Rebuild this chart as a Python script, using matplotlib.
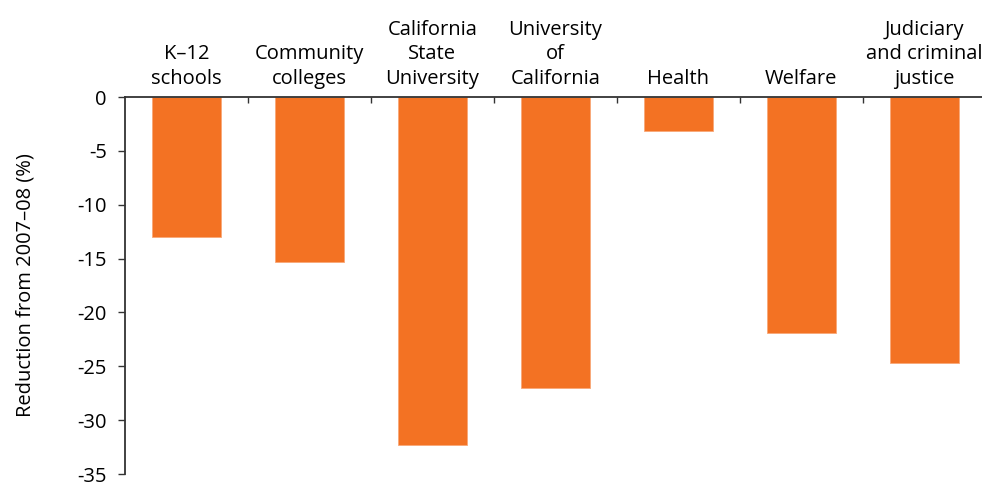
import matplotlib
matplotlib.use('Agg')
import matplotlib.pyplot as plt
import numpy as np

plt.rcParams['font.family'] = ['Open Sans', 'DejaVu Sans']

categories = ['K\u201312\nschools', 'Community\ncolleges', 'California\nState\nUniversity',
              'University\nof\nCalifornia', 'Health', 'Welfare',
              'Judiciary\nand criminal\njustice']
reduction = [-13.0, -15.3, -32.3, -27.0, -3.2, -21.9, -24.7]
y_ticks = [0, -5, -10, -15, -20, -25, -30, -35]

BAR_COLOR = '#F37223'
SPINE_COLOR = '#333333'
FS = 14.5


def main():
    fig = plt.figure(figsize=(9.82, 4.86), dpi=100)
    ax = fig.add_axes([125 / 982, 12 / 486, 857 / 982, 377 / 486])

    x = np.arange(len(categories))
    ax.bar(x, reduction, width=0.56, color=BAR_COLOR, edgecolor='#F8A878', linewidth=0.6)

    ax.set_xlim(-0.5, 6.47)
    ax.set_ylim(-35, 0)

    # category labels above the zero line
    ax.xaxis.tick_top()
    ax.set_xticks(x)
    ax.set_xticklabels(categories, fontsize=FS, linespacing=1.3)
    ax.tick_params(axis='x', which='major', length=0, pad=6)
    ax.set_xticks(x[:-1] + 0.5, minor=True)
    ax.tick_params(axis='x', which='minor', top=True, bottom=False, direction='in',
                   length=4, color=SPINE_COLOR, width=1)

    ax.set_yticks(y_ticks)
    ax.set_yticklabels([str(v) for v in y_ticks], fontsize=FS)
    ax.tick_params(axis='y', direction='out', length=5, color=SPINE_COLOR, width=1, pad=8)
    ax.set_ylabel('Reduction from 2007\u201308 (%)', fontsize=FS, labelpad=30)

    for side in ['right', 'bottom']:
        ax.spines[side].set_visible(False)
    ax.spines['left'].set_color(SPINE_COLOR)
    ax.spines['top'].set_color(SPINE_COLOR)
    ax.spines['left'].set_linewidth(1.3)
    ax.spines['top'].set_linewidth(1.3)

    fig.savefig('out.png', dpi=100)


if __name__ == '__main__':
    main()
